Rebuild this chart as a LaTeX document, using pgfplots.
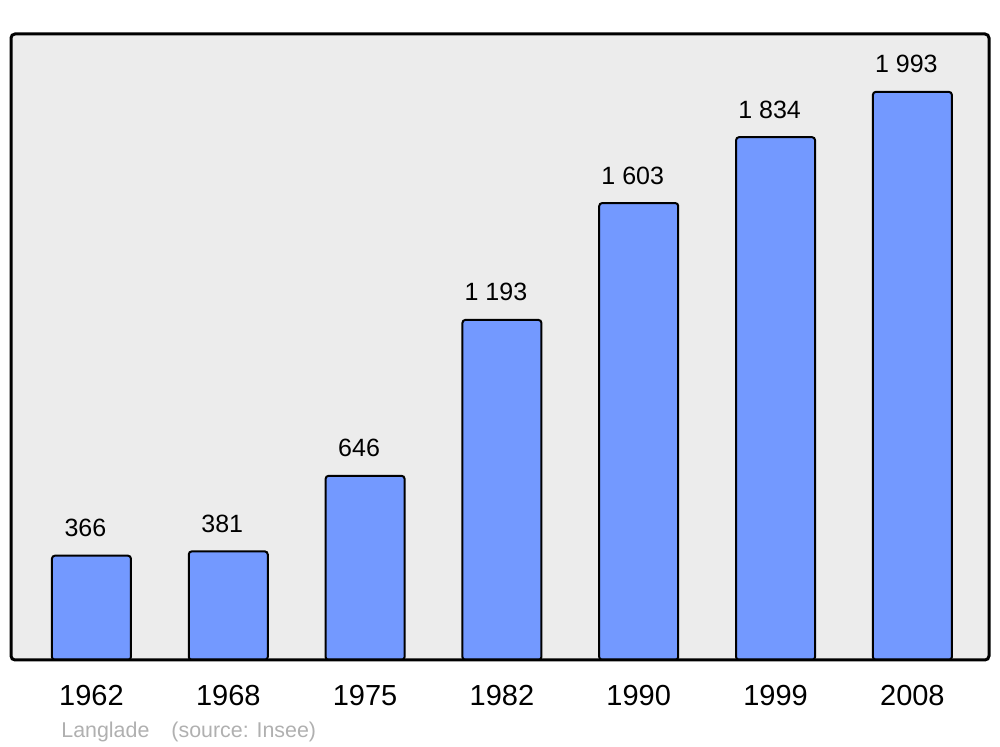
\documentclass[border=0pt]{standalone}
\usepackage{pgfplots}
\pgfplotsset{compat=1.18}
\usepackage{pgfplotstable}
\usepackage{fontspec}
\setmainfont{Liberation Sans}
\definecolor{barblue}{HTML}{7399FF}
\definecolor{bggrey}{HTML}{ECECEC}
\definecolor{srcgrey}{HTML}{B0B0B0}
\pgfplotstableread{
x year val lab
0 1962 366 366
1 1968 381 381
2 1975 646 646
3 1982 1193 {1 193}
4 1990 1603 {1 603}
5 1999 1834 {1 834}
6 2008 1993 {1 993}
}\pop
\begin{document}
\begin{tikzpicture}
\begin{axis}[
  scale only axis,
  width=489pt, height=313pt,
  xmin=-0.588, xmax=6.56,
  ymin=0, ymax=2196,
  axis line style={draw=none},
  axis background/.style={fill=bggrey},
  xtick=data,
  xticklabels={1962,1968,1975,1982,1990,1999,2008},
  xticklabel style={font=\fontsize{14.5pt}{16pt}\selectfont, yshift=-9pt},
  major tick length=0pt,
  ytick=\empty,
  nodes near coords,
  point meta=explicit symbolic,
  every node near coord/.append style={font=\fontsize{12.5pt}{14pt}\selectfont, yshift=5.5pt, xshift=-3pt},
  clip=false,
]
\addplot[ybar, bar width=39.5pt, fill=barblue, draw=black, line width=1pt, rounded corners=1.5pt]
  table[x=x, y=val, meta=lab] {\pop};
\draw[line width=1.5pt, rounded corners=2pt] (rel axis cs:0,0) rectangle (rel axis cs:1,1);
\node[anchor=base west, text=srcgrey, font=\fontsize{10.7pt}{13pt}\selectfont, inner sep=0pt]
  at ([xshift=25pt, yshift=-39pt]rel axis cs:0,0) {Langlade\hspace{11pt}(source: Insee)};
\end{axis}
\useasboundingbox ([xshift=-5.5pt,yshift=-43.5pt]current axis.south west) rectangle ([xshift=5.5pt,yshift=17pt]current axis.north east);
\end{tikzpicture}
\end{document}
